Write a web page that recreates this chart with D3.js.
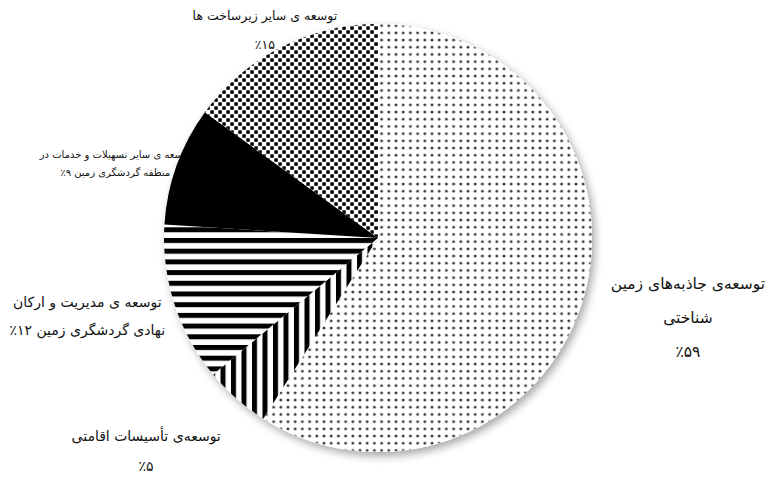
<!DOCTYPE html>
<html>
<head>
<meta charset="utf-8">
<script src="https://cdn.jsdelivr.net/npm/d3@7/dist/d3.min.js"></script>
<style>
  html, body { margin: 0; padding: 0; background: #fff; }
  svg { display: block; }
  text { font-family: "DejaVu Sans", "Noto Sans", sans-serif; fill: #111; }
</style>
</head>
<body>
<svg id="chart" width="770" height="477"></svg>
<script>
// ---- data ----
const categories = [
  "توسعه‌ی جاذبه‌های زمین شناختی",
  "توسعه‌ی تأسیسات اقامتی",
  "توسعه ی مدیریت و ارکان نهادی گردشگری زمین",
  "توسعه ی سایر تسهیلات و خدمات در منطقه گردشگری زمین",
  "توسعه ی سایر زیرساخت ها"
];
const values = [59, 5, 12, 9, 15];
const labelLines = [
  ["توسعه‌ی جاذبه‌های زمین", "شناختی", "٪۵۹"],
  ["توسعه‌ی تأسیسات اقامتی", "٪۵"],
  ["توسعه ی مدیریت و ارکان", "نهادی گردشگری زمین ۱۲٪"],
  ["توسعه ی سایر تسهیلات و خدمات در", "منطقه گردشگری زمین ۹٪"],
  ["توسعه ی سایر زیرساخت ها", "٪۱۵"]
];

// ---- layout ----
const W = 770, H = 477;
const cx = 378, cy = 238, R = 214;
const patternIds = ["dots", "vstripes", "hstripes", "solid", "checker"];
const labelRadius = [320, 315, 301, 273, 237];
const labelFont = [15.5, 14, 14, 10, 12.5];
const labelLineH = [34, 30, 28, 18, 29];
const labelAngleAdj = [-1.8, 6, 3, -4, -1.5];

const svg = d3.select("#chart");
const defs = svg.append("defs");

// patterns
const pDots = defs.append("pattern").attr("id", "dots").attr("patternUnits", "userSpaceOnUse")
  .attr("width", 7.2).attr("height", 7.2);
pDots.append("rect").attr("width", 7.2).attr("height", 7.2).attr("fill", "#fff");
pDots.append("circle").attr("cx", 3.6).attr("cy", 3.6).attr("r", 1.45).attr("fill", "#333");

const pV = defs.append("pattern").attr("id", "vstripes").attr("patternUnits", "userSpaceOnUse")
  .attr("width", 10.5).attr("height", 10);
pV.append("rect").attr("width", 10.5).attr("height", 10).attr("fill", "#fff");
pV.append("rect").attr("x", 0).attr("width", 5).attr("height", 10).attr("fill", "#000");

const pH = defs.append("pattern").attr("id", "hstripes").attr("patternUnits", "userSpaceOnUse")
  .attr("width", 10).attr("height", 10.7);
pH.append("rect").attr("width", 10).attr("height", 10.7).attr("fill", "#fff");
pH.append("rect").attr("y", 0).attr("width", 10).attr("height", 5).attr("fill", "#000");

const pC = defs.append("pattern").attr("id", "checker").attr("patternUnits", "userSpaceOnUse")
  .attr("width", 8).attr("height", 8);
pC.append("rect").attr("width", 8).attr("height", 8).attr("fill", "#fff");
pC.append("rect").attr("x", 0.3).attr("y", 0.3).attr("width", 3.5).attr("height", 3.5).attr("fill", "#000");
pC.append("rect").attr("x", 4.3).attr("y", 4.3).attr("width", 3.5).attr("height", 3.5).attr("fill", "#000");

const filt = defs.append("filter").attr("id", "shadow")
  .attr("x", "-10%").attr("y", "-10%").attr("width", "125%").attr("height", "125%");
filt.append("feDropShadow").attr("dx", 3).attr("dy", 4).attr("stdDeviation", 4)
  .attr("flood-color", "#000").attr("flood-opacity", 0.35);

// ---- pie ----
const pie = d3.pie().sort(null).value(d => d);
const arcs = pie(values);
const arc = d3.arc().innerRadius(0).outerRadius(R);

// labels (drawn beneath the pie)
const lg = svg.append("g").attr("class", "labels");
arcs.forEach((a, i) => {
  const mid = (a.startAngle + a.endAngle) / 2 + labelAngleAdj[i] * Math.PI / 180;
  const lx = cx + labelRadius[i] * Math.sin(mid);
  const ly = cy - labelRadius[i] * Math.cos(mid);
  const lines = labelLines[i];
  const n = lines.length;
  const t = lg.append("text")
    .attr("text-anchor", "middle")
    .attr("direction", "rtl")
    .style("font-size", labelFont[i] + "px");
  lines.forEach((s, k) => {
    t.append("tspan")
      .attr("x", lx)
      .attr("y", ly + (k - (n - 1) / 2) * labelLineH[i])
      .attr("dy", "0.35em")
      .text(s);
  });
});

const g = svg.append("g").attr("transform", `translate(${cx},${cy})`);
g.append("circle").attr("r", R).attr("fill", "#fff").attr("filter", "url(#shadow)");
g.selectAll("path.slice").data(arcs).enter().append("path")
  .attr("class", "slice")
  .attr("d", arc)
  .attr("fill", (d, i) => patternIds[i] === "solid" ? "#000" : `url(#${patternIds[i]})`);
</script>
</body>
</html>
